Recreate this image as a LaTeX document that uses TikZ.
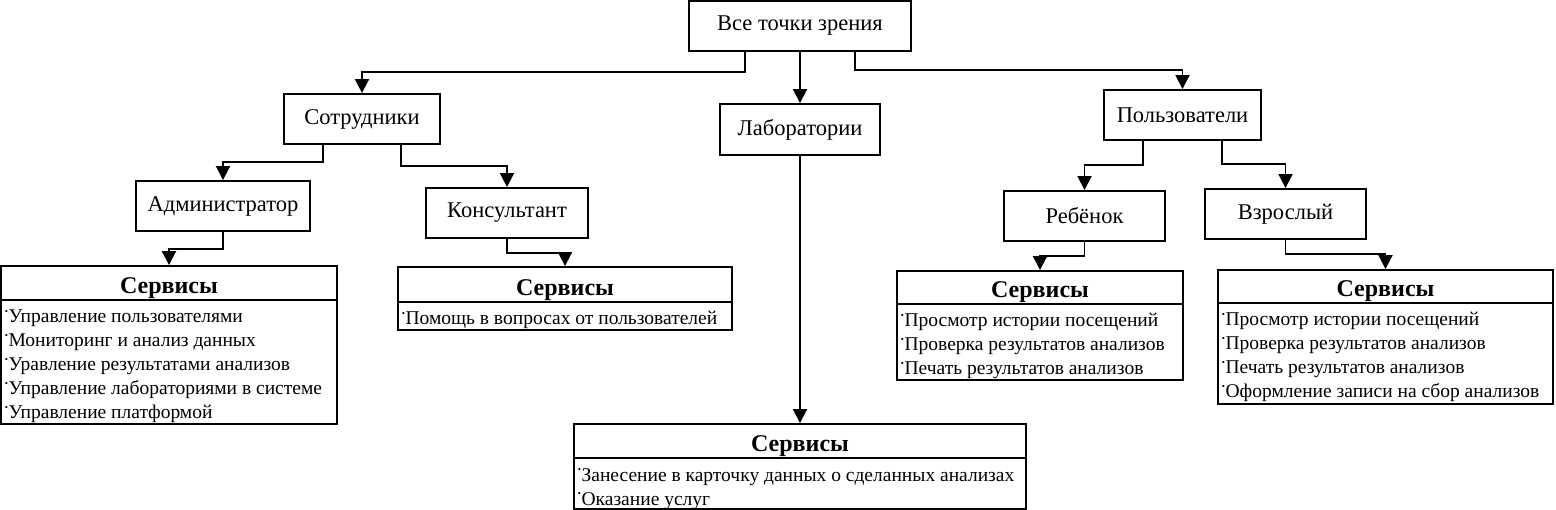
\documentclass[tikz,border=0pt]{standalone}
\usepackage{fontspec}
\setmainfont{Liberation Serif}
\usetikzlibrary{arrows.meta}
\newcommand\bul{\raisebox{0.42em}{\fontsize{9}{9}\selectfont\textbullet}\hspace{0.5pt}}
\begin{document}
\begin{tikzpicture}[x=1pt,y=-1pt,line width=1.9pt,
  box/.style={draw,rectangle,inner sep=0pt,font=\fontsize{22.5}{24}\selectfont},
  sbox/.style={draw,rectangle,inner sep=0pt},
  hdr/.style={anchor=base,inner sep=0pt,font=\fontsize{24}{26}\selectfont\bfseries},
  itm/.style={anchor=base west,inner sep=0pt,font=\fontsize{19.5}{22}\selectfont},
  arr/.style={-{Triangle[length=14pt,width=14pt]}}]
\useasboundingbox (0,0) rectangle (1556,510);
% main boxes
\node[box,minimum width=222,minimum height=50] (all) at (800,26) {Все точки зрения};
\node[box,minimum width=156,minimum height=50] (sotr) at (362,119) {Сотрудники};
\node[box,minimum width=160,minimum height=51] (lab) at (800,129.5) {Лаборатории};
\node[box,minimum width=157,minimum height=50] (polz) at (1182.5,115) {Пользователи};
\node[box,minimum width=174,minimum height=50] (adm) at (223,206) {Администратор};
\node[box,minimum width=162,minimum height=50] (kons) at (507,213) {Консультант};
\node[box,minimum width=161,minimum height=50] (reb) at (1084.5,216) {Ребёнок};
\node[box,minimum width=161,minimum height=50] (vzr) at (1285.5,214) {Взрослый};
% service boxes
\node[sbox,minimum width=336,minimum height=158] (admS) at (169,345) {};
\node[sbox,minimum width=334,minimum height=63] (konsS) at (565,298.5) {};
\node[sbox,minimum width=452,minimum height=85] (labS) at (800,466.5) {};
\node[sbox,minimum width=286,minimum height=109] (rebS) at (1040,325.5) {};
\node[sbox,minimum width=335,minimum height=134] (vzrS) at (1385.5,337) {};
% header separators
\draw (admS.west |- 0,300) -- (admS.east |- 0,300);
\draw (konsS.west |- 0,302) -- (konsS.east |- 0,302);
\draw (labS.west |- 0,458) -- (labS.east |- 0,458);
\draw (rebS.west |- 0,304) -- (rebS.east |- 0,304);
\draw (vzrS.west |- 0,303) -- (vzrS.east |- 0,303);
% headers
\node[hdr] (admH) at (169,294) {Сервисы};
\node[hdr] (konsH) at (565,296) {Сервисы};
\node[hdr] (labH) at (800,452) {Сервисы};
\node[hdr] (rebH) at (1040,298) {Сервисы};
\node[hdr] (vzrH) at (1385.5,297) {Сервисы};
% items
\node[itm] (a1) at (4,323) {\bul Управление пользователями};
\node[itm] (a2) at (4,347) {\bul Мониторинг и анализ данных};
\node[itm] (a3) at (4,371) {\bul Уравление результатами анализов};
\node[itm] (a4) at (4,395) {\bul Управление лабораториями в системе};
\node[itm] (a5) at (4,419) {\bul Управление платформой};
\node[itm] (k1) at (401,325) {\bul Помощь в вопросах от пользователей};
\node[itm] (l1) at (577,481) {\bul Занесение в карточку данных о сделанных анализах};
\node[itm] (l2) at (577,505) {\bul Оказание услуг};
\node[itm] (r1) at (900,327) {\bul Просмотр истории посещений};
\node[itm] (r2) at (900,351) {\bul Проверка результатов анализов};
\node[itm] (r3) at (900,375) {\bul Печать результатов анализов};
\node[itm] (v1) at (1221,326) {\bul Просмотр истории посещений};
\node[itm] (v2) at (1221,350) {\bul Проверка результатов анализов};
\node[itm] (v3) at (1221,374) {\bul Печать результатов анализов};
\node[itm] (v4) at (1221,398) {\bul Оформление записи на сбор анализов};
% connectors
\draw[arr] (all.south -| 745,0) -- (745,72) -| (sotr.north);
\draw[arr] (all.south) -- (lab.north);
\draw[arr] (all.south -| 855,0) -- (855,70) -| (polz.north);
\draw[arr] (sotr.south -| 323,0) -- (323,162) -| (adm.north);
\draw[arr] (sotr.south -| 401,0) -- (401,166) -| (kons.north);
\draw[arr] (polz.south -| 1143,0) -- (1143,165) -| (reb.north);
\draw[arr] (polz.south -| 1222,0) -- (1222,164) -| (vzr.north);
\draw[arr] (adm.south) -- (223,249) -| (admS.north);
\draw[arr] (kons.south) -- (507,253) -| (konsS.north);
\draw[arr] (lab.south) -- (labS.north);
\draw[arr] (reb.south) -- (1084.5,256) -| (rebS.north);
\draw[arr] (vzr.south) -- (1285.5,254) -| (vzrS.north);
\end{tikzpicture}
\end{document}
